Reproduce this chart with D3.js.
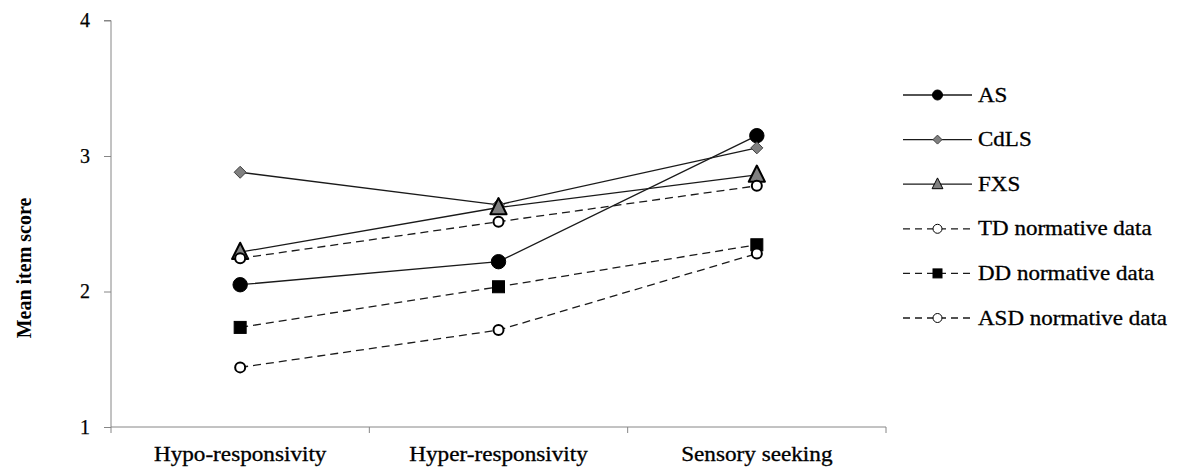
<!DOCTYPE html>
<html><head><meta charset="utf-8">
<script src="https://cdn.jsdelivr.net/npm/d3@7"></script>
<style>
body{margin:0;background:#fff;}
svg{display:block;}
svg text{font-family:"Liberation Serif","Times New Roman",serif;fill:#000;}
</style></head>
<body>
<svg id="c" width="1181" height="470"></svg>
<script>
const categories = ["Hypo-responsivity", "Hyper-responsivity", "Sensory seeking"];
const seriesNames = ["AS", "CdLS", "FXS", "TD normative data", "DD normative data", "ASD normative data"];
const AS   = [2.05, 2.22, 3.15];
const CdLS = [2.88, 2.64, 3.06];
const FXS  = [2.29, 2.62, 2.86];
const TD   = [2.245, 2.515, 2.78];
const DD   = [1.735, 2.035, 2.345];
const ASD  = [1.44, 1.715, 2.28];
const yTicks = [1, 2, 3, 4];
const yLabel = "Mean item score";

const FONT = "Liberation Serif";
const seriesValues = [AS, CdLS, FXS, TD, DD, ASD];
const styles = [
  {dash:null, marker:"circle", fill:"#000", stroke:"#000", size:7.2, lsize:5, sw:1},
  {dash:null, marker:"diamond", fill:"#808080", stroke:"#404040", size:6, lsize:4.5, sw:1},
  {dash:null, marker:"triangle", fill:"#808080", stroke:"#000", size:9, lsize:6, sw:2},
  {dash:"8,5", marker:"circle", fill:"#fff", stroke:"#000", size:5, lsize:4.5, sw:2, lsw:1},
  {dash:"8,5", marker:"square", fill:"#000", stroke:"#000", size:6, lsize:4.5, sw:1},
  {dash:"8,5", marker:"circle", fill:"#fff", stroke:"#000", size:5, lsize:4.5, sw:2, lsw:1}
];

const svg = d3.select("#c");
const x = d3.scaleBand().domain(categories).range([111, 886]).paddingInner(0).paddingOuter(0);
const y = d3.scaleLinear().domain([1, 4]).range([427, 20.5]);
const cx = c => x(c) + x.bandwidth() / 2;
const axisColor = "#868686";

// Y axis
const yAxis = svg.append("g").attr("transform", "translate(111,0)")
  .call(d3.axisLeft(y).tickValues(yTicks).tickFormat(d3.format("d")).tickSize(7).tickPadding(14));
yAxis.attr("font-family", FONT);
yAxis.select(".domain").attr("stroke", axisColor).attr("d", `M-7,${y(4)}H0V${y(1)}`);
yAxis.selectAll(".tick line").attr("stroke", axisColor);
yAxis.selectAll(".tick text").attr("font-size", 20).attr("font-family", FONT).attr("fill", "#000")
  .attr("stroke", "#000").attr("stroke-width", 0.25);

// X axis (ticks at band boundaries)
const xg = svg.append("g").attr("transform", `translate(0,${y(1)})`);
xg.append("line").attr("x1", x.range()[0]).attr("x2", x.range()[1]).attr("y1", 0).attr("y2", 0).attr("stroke", axisColor);
const bounds = categories.map(c => x(c)).concat([x.range()[1]]);
xg.selectAll("line.tk").data(bounds).enter().append("line").attr("class", "tk")
  .attr("x1", d => d).attr("x2", d => d).attr("y1", 0).attr("y2", 6).attr("stroke", axisColor);
xg.selectAll("text.lab").data(categories).enter().append("text").attr("class", "lab")
  .attr("transform", d => `translate(${cx(d)},34) scale(1.16,1)`)
  .attr("text-anchor", "middle").attr("font-family", FONT).attr("font-size", 20)
  .attr("stroke", "#000").attr("stroke-width", 0.3).text(d => d);

// Y label
svg.append("text").attr("transform", `translate(31,268) rotate(-90)`)
  .attr("text-anchor", "middle").attr("font-family", FONT).attr("font-size", 20).attr("font-weight", "bold").text(yLabel);

function drawMarker(g, type, px, py, s, fill, stroke, sw) {
  if (type === "circle") {
    g.append("circle").attr("cx", px).attr("cy", py).attr("r", s).attr("fill", fill).attr("stroke", stroke).attr("stroke-width", sw);
  } else if (type === "square") {
    g.append("rect").attr("x", px - s).attr("y", py - s).attr("width", 2*s).attr("height", 2*s).attr("fill", fill).attr("stroke", stroke).attr("stroke-width", sw);
  } else if (type === "diamond") {
    g.append("path").attr("d", `M${px},${py-s}L${px+s},${py}L${px},${py+s}L${px-s},${py}Z`).attr("fill", fill).attr("stroke", stroke).attr("stroke-width", sw);
  } else if (type === "triangle") {
    g.append("path").attr("d", `M${px},${py-s*1.05}L${px+s*0.9},${py+s*0.75}L${px-s*0.9},${py+s*0.75}Z`).attr("fill", fill).attr("stroke", stroke).attr("stroke-width", sw).attr("stroke-linejoin", "round");
  }
}

const line = d3.line().x((d, i) => cx(categories[i])).y(d => y(d));
seriesValues.forEach((vals, si) => {
  const st = styles[si];
  const g = svg.append("g");
  g.append("path").attr("d", line(vals)).attr("fill", "none").attr("stroke", "#1a1a1a").attr("stroke-width", 1.3)
    .attr("stroke-dasharray", st.dash);
  vals.forEach((v, i) => drawMarker(g, st.marker, cx(categories[i]), y(v), st.size, st.fill, st.stroke, st.sw));
});

// Legend
const lg = svg.append("g");
seriesNames.forEach((name, i) => {
  const st = styles[i];
  const ly = 95 + i * 44.6;
  const g = lg.append("g");
  g.append("line").attr("x1", 903).attr("x2", 972).attr("y1", ly).attr("y2", ly).attr("stroke", "#1a1a1a").attr("stroke-width", 1.3)
    .attr("stroke-dasharray", st.dash ? "7,5" : null);
  drawMarker(g, st.marker, 937.5, ly, st.lsize, st.fill, st.stroke, st.lsw || (st.marker === "triangle" ? 1 : st.sw));
  g.append("text").attr("transform", `translate(978,${ly + 6.5}) scale(1.15,1)`).attr("font-family", FONT).attr("font-size", 20)
    .attr("stroke", "#000").attr("stroke-width", 0.3).text(name);
});
</script>
</body></html>
